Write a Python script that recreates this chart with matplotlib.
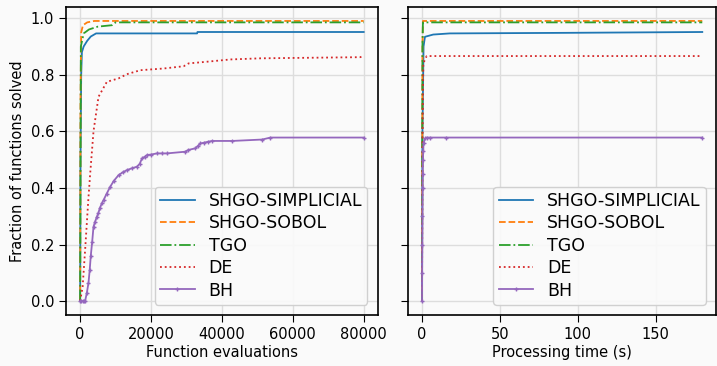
import matplotlib
matplotlib.use("Agg")
import matplotlib.pyplot as plt

# ---- Data: function evaluations (left panel) ----
shgo_simp_evals = [0, 100, 300, 500, 1000, 2000, 3000, 4500, 33000, 33100, 80000]
shgo_simp_frac = [0.0, 0.5, 0.8, 0.88, 0.90, 0.92, 0.935, 0.946, 0.946, 0.951, 0.951]

shgo_sobol_evals = [0, 100, 300, 800, 2000, 4000, 80000]
shgo_sobol_frac = [0.0, 0.7, 0.95, 0.975, 0.985, 0.99, 0.99]

tgo_evals = [0, 200, 1000, 2500, 5000, 9000, 10000, 80000]
tgo_frac = [0.0, 0.9, 0.946, 0.96, 0.97, 0.975, 0.985, 0.985]

de_evals = [0, 700, 1400, 2300, 2830, 3770, 5180, 7540, 10830, 13200, 17000,
            23550, 29200, 30600, 35800, 42400, 50900, 79000, 80000]
de_frac = [0.0, 0.05, 0.18, 0.357, 0.45, 0.60, 0.722, 0.775, 0.787, 0.802, 0.816,
           0.822, 0.830, 0.840, 0.846, 0.854, 0.858, 0.862, 0.866]

bh_evals = [0, 300, 700, 1000, 1400, 1900, 2350, 2700, 3000, 3400, 3770, 4200, 4710,
            5100, 5600, 6100, 6600, 7500, 8480, 9500, 10830, 12000, 13200, 14500,
            16000, 16800, 17440, 18200, 18850, 20000, 21680, 23000, 24500, 29680,
            30500, 32500, 33200, 33900, 35000, 36000, 37200, 42900, 51360, 53700,
            80000]
bh_frac = [0.0, 0.0, 0.0, 0.0, 0.0, 0.03, 0.064, 0.11, 0.16, 0.21, 0.263, 0.28, 0.298,
           0.31, 0.33, 0.345, 0.357, 0.38, 0.404, 0.425, 0.445, 0.455, 0.463, 0.469,
           0.475, 0.485, 0.504, 0.51, 0.516, 0.518, 0.522, 0.522, 0.522, 0.528,
           0.534, 0.540, 0.548, 0.557, 0.560, 0.563, 0.566, 0.566, 0.571, 0.578,
           0.578]

# ---- Data: processing time (right panel) ----
shgo_simp_time = [0, 0.3, 1.0, 1.9, 7.2, 17.8, 92, 180]
shgo_simp_tfrac = [0.0, 0.6, 0.9, 0.934, 0.942, 0.946, 0.948, 0.951]

shgo_sobol_time = [0, 0.3, 0.6, 180]
shgo_sobol_tfrac = [0.0, 0.9, 0.99, 0.99]

tgo_time = [0, 0.3, 0.6, 180]
tgo_tfrac = [0.0, 0.9, 0.985, 0.985]

de_time = [0, 0.4, 0.85, 3.0, 180]
de_tfrac = [0.0, 0.6, 0.84, 0.866, 0.866]

bh_time = [0, 0.1, 0.2, 0.3, 0.4, 0.5, 0.6, 0.8, 1.0, 2.0, 3.0, 5.0, 15.7, 180]
bh_tfrac = [0.0, 0.1, 0.2, 0.3, 0.4, 0.45, 0.5, 0.53, 0.56, 0.575, 0.578, 0.578,
            0.578, 0.578]

labels = ["SHGO-SIMPLICIAL", "SHGO-SOBOL", "TGO", "DE", "BH"]
colors = ["#1f77b4", "#ff7f0e", "#2ca02c", "#d62728", "#9467bd"]
styles = ["-", "--", "-.", ":", "-"]
markers = [None, None, None, None, "+"]

bg = "#fafafa"
fig = plt.figure(figsize=(7.17, 3.66), dpi=100, facecolor=bg)
ax1 = fig.add_axes([0.092, 0.139, 0.435, 0.842], facecolor=bg)
ax2 = fig.add_axes([0.569, 0.139, 0.430, 0.842], facecolor=bg, sharey=ax1)

left_data = [(shgo_simp_evals, shgo_simp_frac), (shgo_sobol_evals, shgo_sobol_frac),
             (tgo_evals, tgo_frac), (de_evals, de_frac), (bh_evals, bh_frac)]
right_data = [(shgo_simp_time, shgo_simp_tfrac), (shgo_sobol_time, shgo_sobol_tfrac),
              (tgo_time, tgo_tfrac), (de_time, de_tfrac), (bh_time, bh_tfrac)]

for ax, data in ((ax1, left_data), (ax2, right_data)):
    for (x, y), lab, c, ls, mk in zip(data, labels, colors, styles, markers):
        ax.plot(x, y, color=c, linestyle=ls, marker=mk, markersize=3.5,
                markeredgewidth=1.0, linewidth=1.3, label=lab)
    ax.grid(True, color="#dddddd", linewidth=1.0)
    ax.set_axisbelow(True)
    for s in ax.spines.values():
        s.set_color("black")
        s.set_linewidth(1.2)
    ax.tick_params(labelsize=10.5, direction="out", length=5)
    ax.legend(loc="lower right", fontsize=12.5, frameon=True, facecolor=bg,
              edgecolor="#cccccc", framealpha=0.9, numpoints=1,
              borderaxespad=0.6, labelspacing=0.25, borderpad=0.3)

ax1.set_xticks([0, 20000, 40000, 60000, 80000])
ax2.set_xticks([0, 50, 100, 150])
ax1.set_yticks([0.0, 0.2, 0.4, 0.6, 0.8, 1.0])
ax2.tick_params(labelleft=False)
ax1.set_xlabel("Function evaluations", fontsize=10.5, labelpad=2)
ax2.set_xlabel("Processing time (s)", fontsize=10.5, labelpad=2)
ax1.set_ylabel("Fraction of functions solved", fontsize=10.5)

fig.savefig("out.png", dpi=100, facecolor=bg)
